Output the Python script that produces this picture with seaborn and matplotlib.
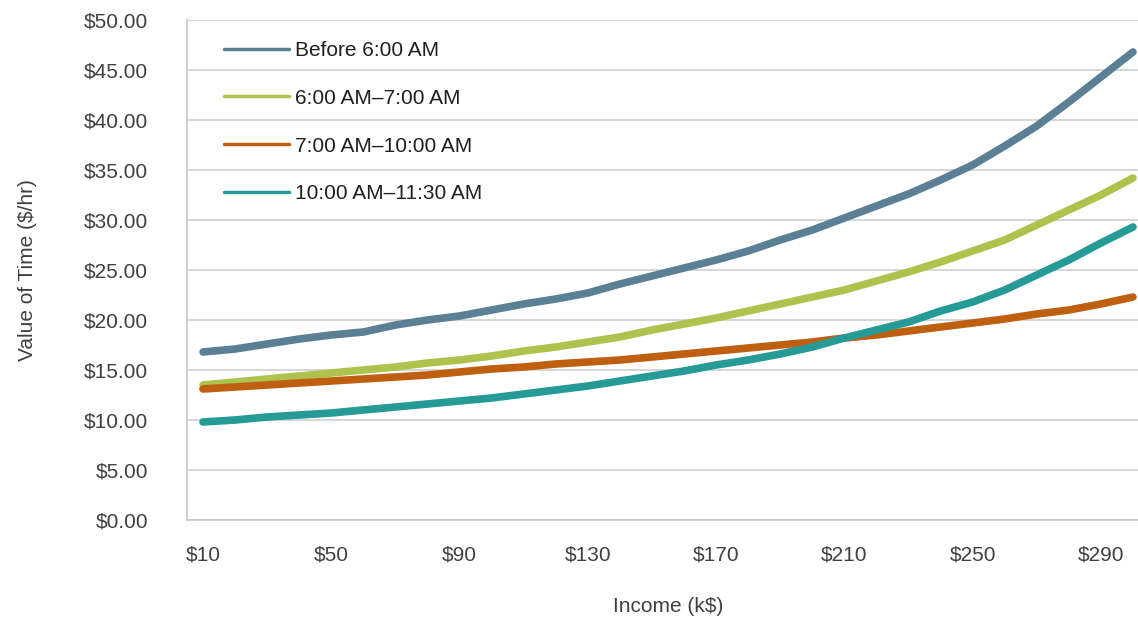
import pandas as pd
import seaborn as sns
import matplotlib.pyplot as plt
from matplotlib.ticker import FuncFormatter

# Income categories (k$) and value-of-time series ($/hr)
income = [10, 20, 30, 40, 50, 60, 70, 80, 90, 100, 110, 120, 130, 140, 150,
          160, 170, 180, 190, 200, 210, 220, 230, 240, 250, 260, 270, 280, 290, 300]
before_6 = [16.8, 17.1, 17.6, 18.1, 18.5, 18.8, 19.5, 20.0, 20.4, 21.0, 21.6, 22.1, 22.7, 23.6, 24.4,
            25.2, 26.0, 26.9, 28.0, 29.0, 30.2, 31.4, 32.6, 34.0, 35.5, 37.4, 39.4, 41.8, 44.3, 46.8]
am6_7 = [13.5, 13.8, 14.1, 14.4, 14.7, 15.0, 15.3, 15.7, 16.0, 16.4, 16.9, 17.3, 17.8, 18.3, 19.0,
         19.6, 20.2, 20.9, 21.6, 22.3, 23.0, 23.9, 24.8, 25.8, 26.9, 28.0, 29.5, 31.0, 32.5, 34.2]
am7_10 = [13.1, 13.3, 13.5, 13.7, 13.9, 14.1, 14.3, 14.5, 14.8, 15.1, 15.3, 15.6, 15.8, 16.0, 16.3,
          16.6, 16.9, 17.2, 17.5, 17.8, 18.2, 18.5, 18.9, 19.3, 19.7, 20.1, 20.6, 21.0, 21.6, 22.3]
am10_1130 = [9.8, 10.0, 10.3, 10.5, 10.7, 11.0, 11.3, 11.6, 11.9, 12.2, 12.6, 13.0, 13.4, 13.9, 14.4,
             14.9, 15.5, 16.0, 16.6, 17.3, 18.2, 19.0, 19.8, 20.9, 21.8, 23.0, 24.5, 26.0, 27.7, 29.3]

labels = ["Before 6:00 AM", "6:00 AM\u20137:00 AM", "7:00 AM\u201310:00 AM", "10:00 AM\u201311:30 AM"]
colors = ["#5B7F95", "#AEC34D", "#BF5F10", "#259A96"]
x_ticks = [10, 50, 90, 130, 170, 210, 250, 290]

df = pd.DataFrame({"Income": income, labels[0]: before_6, labels[1]: am6_7,
                   labels[2]: am7_10, labels[3]: am10_1130})
long_df = df.melt(id_vars="Income", var_name="Period", value_name="Value")

sns.set_style("white")
plt.rcParams["font.family"] = ["Liberation Sans", "DejaVu Sans"]
text_color = "#404040"

fig = plt.figure(figsize=(11.38, 6.24), dpi=100)
ax = fig.add_axes([187 / 1138, 104 / 624, 962 / 1138, 500 / 624])

sns.lineplot(data=long_df, x="Income", y="Value", hue="Period", hue_order=labels,
             palette=colors, linewidth=5.5, ax=ax, solid_capstyle="round", legend=False)

ax.set_xlim(5, 305)
ax.set_ylim(0, 50)
ax.set_yticks(range(0, 51, 5))
ax.set_xticks(x_ticks)
ax.yaxis.set_major_formatter(FuncFormatter(lambda v, p: f"${v:.2f}"))
ax.xaxis.set_major_formatter(FuncFormatter(lambda v, p: f"${v:.0f}"))
ax.tick_params(axis="y", length=0, pad=28, labelsize=15, labelcolor=text_color)
ax.tick_params(axis="x", length=0, pad=18, labelsize=15, labelcolor=text_color)
ax.grid(axis="y", color="#D0D0D0", linewidth=1.2)
ax.set_axisbelow(True)
for side in ["top", "right"]:
    ax.spines[side].set_visible(False)
for side in ["left", "bottom"]:
    ax.spines[side].set_color("#C8C8C8")
    ax.spines[side].set_linewidth(1.2)

ax.set_xlabel("Income (k$)", fontsize=15, color=text_color, labelpad=24)
ax.set_ylabel("Value of Time ($/hr)", fontsize=15, color=text_color, labelpad=34)

handles = [plt.Line2D([], [], color=c, linewidth=2.5) for c in colors]
fig.legend(handles, labels, loc="upper left", bbox_to_anchor=(224 / 1138, 1 - 41 / 624),
           frameon=False, fontsize=15, handlelength=3.1, handletextpad=0.3,
           labelspacing=1.38, borderpad=0, borderaxespad=0, labelcolor="#202020")

fig.savefig("out.png", dpi=100)
